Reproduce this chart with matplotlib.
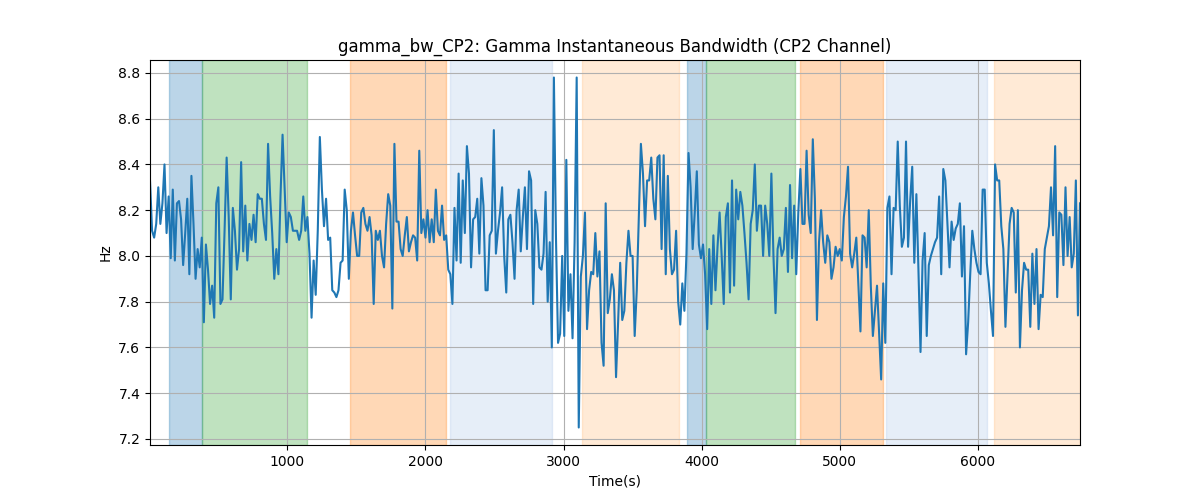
import numpy as np
import matplotlib
matplotlib.use("Agg")
import matplotlib.pyplot as plt

t0 = 5.0
dt = 15.0

seg1 = [8.33, 8.11, 8.08, 8.14, 8.30, 8.14, 8.23, 8.40, 8.10, 8.26, 7.99, 8.29, 7.98, 8.23, 8.24, 8.16,
        7.96, 8.10, 8.25, 7.92, 8.35, 8.14, 7.90, 8.03, 7.95, 8.08, 7.71, 8.05, 7.94, 7.79, 7.87, 7.73,
        8.23, 8.30, 7.79, 7.81, 8.11, 8.43, 8.17, 7.81, 8.21, 8.11, 7.94, 8.03, 8.41, 8.02, 8.22, 7.98,
        8.14, 8.07, 8.18, 8.06, 8.27, 8.25, 8.25, 8.14, 8.07]
seg2 = [8.49, 8.26, 8.10, 7.90, 8.03, 7.92, 8.26, 8.53, 8.30, 8.06, 8.19, 8.17, 8.11, 8.11, 8.11, 8.07,
        8.11, 8.26, 8.11, 8.17, 8.01, 7.73, 7.98, 7.83, 8.11, 8.52, 8.29, 8.13, 8.25, 8.07, 8.08, 7.85,
        7.84, 7.82, 7.85, 7.97, 7.98, 8.29, 8.20, 7.90, 8.11, 8.19, 8.09, 8.00, 8.00, 8.19, 8.21, 8.14,
        8.11, 8.17, 8.09, 7.79, 8.11, 8.07, 8.11, 8.00]
seg3 = [7.95, 8.14, 8.27, 8.22, 7.77, 8.49, 8.15, 8.15, 8.03, 8.00, 8.09, 8.17, 8.02, 8.06, 8.09, 8.08,
        7.98, 8.46, 8.10, 8.16, 8.08, 8.20, 8.06, 8.16, 8.06, 8.29, 8.11, 8.09, 8.22, 8.07, 8.09, 7.94,
        7.92, 7.79, 8.21, 7.98, 8.36, 7.97, 8.33, 8.10, 8.48, 8.36, 7.95, 8.16, 8.17, 8.25, 8.01, 8.34,
        8.22, 7.85, 7.85, 8.09, 8.11, 8.55, 8.01, 8.11]
seg4 = [8.19, 8.30, 8.00, 7.84, 8.16, 8.18, 8.06, 7.90, 8.20, 8.29, 8.02, 8.17, 8.30, 8.03, 8.37, 8.33,
        7.79, 8.20, 8.14, 7.95, 7.94, 8.01, 8.28, 7.80, 8.06, 7.60, 8.78, 8.08, 7.62, 7.66, 8.00, 7.65,
        8.42, 7.76, 7.92, 7.64, 8.06, 8.78, 7.25, 7.91, 8.00, 8.19, 7.68, 7.85, 7.93, 7.92, 8.10, 7.91,
        8.02, 7.62, 7.52, 8.23, 7.75, 7.81, 7.92, 7.85]
seg5 = [7.47, 7.71, 7.97, 7.72, 7.76, 7.97, 8.11, 8.00, 8.00, 7.65, 7.85, 8.17, 8.49, 8.36, 8.13, 8.33,
        8.33, 8.43, 8.25, 8.16, 8.43, 8.44, 8.03, 8.44, 7.92, 8.35, 8.03, 7.92, 7.94, 8.11, 7.80, 7.70,
        7.88, 7.76, 8.01, 8.45, 8.30, 8.03, 8.19, 8.37, 8.05, 7.99, 8.05, 7.92, 7.68, 8.03, 7.79, 8.09,
        7.85, 8.04, 8.19, 8.00, 7.79, 8.17, 8.23, 7.84]
seg6 = [8.33, 7.87, 8.29, 8.16, 8.28, 8.22, 8.10, 7.97, 7.81, 8.14, 8.20, 8.40, 8.11, 8.22, 8.22, 8.00,
        8.22, 8.14, 8.00, 8.36, 8.00, 7.75, 8.03, 8.08, 8.00, 8.03, 8.21, 7.93, 8.31, 7.99, 8.22, 7.92,
        8.19, 8.38, 8.14, 8.14, 8.46, 8.18, 8.10, 8.51, 8.25, 7.72, 8.06, 8.20, 8.06, 7.97, 8.09, 8.06,
        7.90, 7.95, 8.04, 8.00, 8.03, 7.98, 8.17, 8.26]
seg7 = [8.39, 8.01, 7.95, 8.01, 8.08, 7.87, 7.67, 8.09, 8.08, 7.95, 8.20, 7.87, 7.65, 7.76, 7.87, 7.66,
        7.46, 7.88, 7.62, 8.21, 8.26, 7.92, 8.21, 8.20, 8.50, 8.22, 8.04, 8.08, 8.50, 8.04, 8.24, 8.39,
        7.97, 8.27, 7.94, 7.58, 7.98, 8.10, 7.65, 7.96, 8.00, 8.03, 8.06, 8.08, 8.26, 7.92, 8.38, 8.33,
        8.14, 7.95, 8.15, 8.07, 8.12, 8.14, 8.23, 7.91]
seg8 = [8.13, 7.57, 7.71, 7.92, 8.11, 8.03, 7.97, 7.93, 7.92, 8.29, 8.29, 7.97, 7.88, 7.76, 7.65, 8.40,
        8.33, 8.33, 8.13, 8.03, 7.69, 7.91, 8.14, 8.21, 8.19, 7.84, 8.20, 7.60, 7.85, 7.97, 7.94, 7.94,
        7.69, 8.01, 7.79, 8.03, 7.68, 7.83, 7.82, 8.03, 8.08, 8.13, 8.30, 8.09, 8.48, 7.82, 8.19, 8.18,
        7.96, 8.30, 8.00, 8.17, 7.95, 8.01, 8.33, 7.74, 8.23]

bandwidth = np.array(seg1 + seg2 + seg3 + seg4 + seg5 + seg6 + seg7 + seg8)
time_s = t0 + np.arange(len(bandwidth)) * dt

span_start = [146, 385, 1450, 2181, 3136, 3894, 4032, 4712, 5334, 6116]
span_end = [385, 1140, 2152, 2919, 3837, 4032, 4676, 5312, 6065, 6740]
span_color = ["tab:blue", "tab:green", "tab:orange", "#aec7e8", "#ffbb78",
              "tab:blue", "tab:green", "tab:orange", "#aec7e8", "#ffbb78"]
span_alpha = [0.3, 0.3, 0.3, 0.3, 0.3, 0.3, 0.3, 0.3, 0.3, 0.3]

fig, ax = plt.subplots(figsize=(12, 5), dpi=100)
for s, e, c, a in zip(span_start, span_end, span_color, span_alpha):
    ax.axvspan(s, e, color=c, alpha=a)
ax.plot(time_s, bandwidth, color="tab:blue", linewidth=1.5)
ax.set_xlim(time_s[0], time_s[-1])
ax.grid(True)
ax.set_title("gamma_bw_CP2: Gamma Instantaneous Bandwidth (CP2 Channel)")
ax.set_xlabel("Time(s)")
ax.set_ylabel("Hz")
fig.savefig("out.png")
